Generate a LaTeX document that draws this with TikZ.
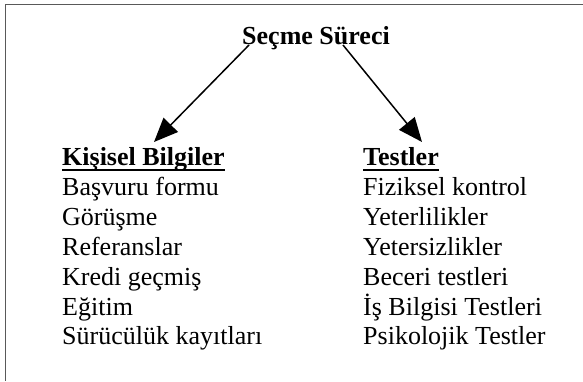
\documentclass[tikz,border=0pt]{standalone}
\usepackage{fontspec}
\setmainfont{Liberation Serif}
\usetikzlibrary{arrows.meta}
\begin{document}
\begin{tikzpicture}[x=1pt,y=-1pt,
  txt/.style={anchor=base west,inner sep=0pt,font=\fontsize{26}{30}\selectfont},
  hdr/.style={txt,font=\fontsize{26}{30}\selectfont\bfseries},
  arr/.style={line width=1.5pt,-{Triangle[length=24pt,width=20pt]}},
  uline/.style={line width=2pt},
  frame/.style={draw=black!65,line width=1.5pt}]
\useasboundingbox (0,0) rectangle (583,381);
\draw[frame] (583,4.5) -- (5.5,4.5) -- (5.5,381);
\node[hdr,anchor=base] (title) at (316,44) {Seçme Süreci};
\coordinate (ls) at (249,45);
\coordinate (rs) at (343,45);
\coordinate (lt) at (154,142);
\coordinate (rt) at (422,142);
\draw[arr] (ls) -- (lt);
\draw[arr] (rs) -- (rt);
% left column
\node[hdr] (kb) at (62,165) {Kişisel Bilgiler};
\draw[uline] ([yshift=-4.5pt]kb.base west) -- ([yshift=-4.5pt]kb.base east);
\node[txt] (l1) at (62,195) {Başvuru formu};
\node[txt] (l2) at (62,225) {Görüşme};
\node[txt] (l3) at (62,255) {Referanslar};
\node[txt] (l4) at (62,285) {Kredi geçmiş};
\node[txt] (l5) at (62,315) {Eğitim};
\node[txt] (l6) at (62,344) {Sürücülük kayıtları};
% right column
\node[hdr] (ts) at (363,165) {Testler};
\draw[uline] ([yshift=-4.5pt]ts.base west) -- ([yshift=-4.5pt]ts.base east);
\node[txt] (r1) at (363,195) {Fiziksel kontrol};
\node[txt] (r2) at (363,225) {Yeterlilikler};
\node[txt] (r3) at (363,255) {Yetersizlikler};
\node[txt] (r4) at (363,285) {Beceri testleri};
\node[txt] (r5) at (363,315) {İş Bilgisi Testleri};
\node[txt] (r6) at (363,344) {Psikolojik Testler};
\end{tikzpicture}
\end{document}
